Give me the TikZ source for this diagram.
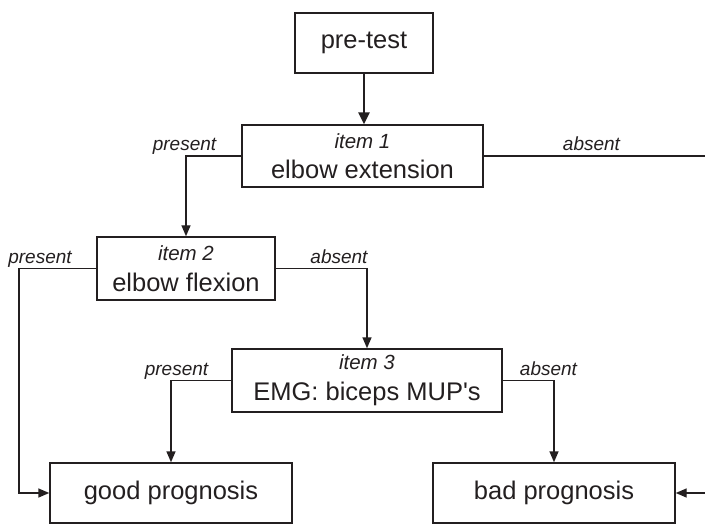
\documentclass[tikz,border=0pt]{standalone}
\usepackage{fontspec}
\setmainfont{Liberation Sans}
\usetikzlibrary{arrows.meta,positioning}
\definecolor{ink}{RGB}{35,31,32}
\newcommand{\itm}[1]{{\fontsize{20.5}{24}\selectfont\itshape #1}}

\begin{document}
\begin{tikzpicture}[x=1pt,y=-1pt,
  box/.style={draw=ink,line width=1.4pt,text=ink,inner sep=0pt,align=center,
    font=\fontsize{25.5}{30.6}\selectfont},
  lbl/.style={anchor=base,text=ink,inner sep=0pt,font=\fontsize{19}{23}\selectfont\itshape},
  wire/.style={draw=ink,line width=1.4pt},
  link/.style={wire,-{Triangle[length=11pt,width=9pt]}}]
\useasboundingbox (0,0) rectangle (705,524);
\node[box,minimum width=138pt,minimum height=60pt] (P) at (364,43) {pre-test};
\node[box,minimum width=241pt,minimum height=62pt] (I1) at (362.5,156) {\itm{item 1}\\elbow extension};
\node[box,minimum width=178pt,minimum height=63pt] (I2) at (186,268.5) {\itm{item 2}\\elbow flexion};
\node[box,minimum width=270pt,minimum height=63pt] (I3) at (367,380.5) {\itm{item 3}\\EMG: biceps MUP\textquotesingle s};
\node[box,minimum width=242pt,minimum height=60pt] (G) at (171,493) {good prognosis};
\node[box,minimum width=242pt,minimum height=60pt] (B) at (554,493) {bad prognosis};
\coordinate (R1) at (705,156);
\coordinate (R2) at (705,493);
\coordinate (L2) at (19,493);
% outcome labels
\node[lbl] (p1) at (184.5,150.5) {present};
\node[lbl] (a1) at (591.5,150.5) {absent};
\node[lbl] (p2) at (40,263) {present};
\node[lbl] (a2) at (339,263) {absent};
\node[lbl] (p3) at (176.5,375.5) {present};
\node[lbl] (a3) at (548.5,375.5) {absent};
% connectors
\draw[wire,line width=2.4pt,-{Triangle[length=12pt,width=11pt]}] (P.south) -- (P.south |- I1.north);
\draw[link] (I1.west) -| (I2.north);
\draw[wire] (I1.east) -- (R1);
\draw[link] (I2.west) -| (L2) -- (G.west);
\draw[link] (I2.east) -| (I3.north);
\draw[link] (I3.west) -| (G.north);
\draw[link] (I3.east) -| (B.north);
\draw[link] (R2) -- (B.east);
\end{tikzpicture}
\end{document}
